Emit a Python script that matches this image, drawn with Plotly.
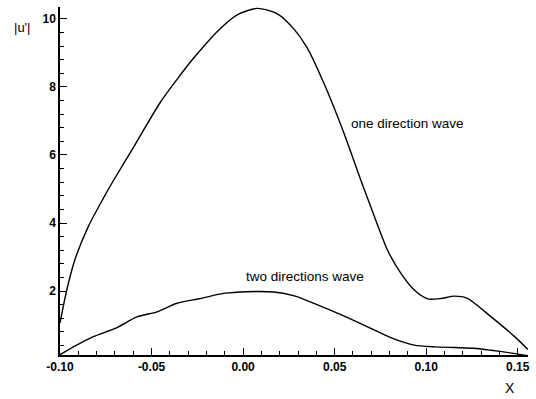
import plotly.graph_objects as go

# one direction wave
x_one = [-0.100, -0.0963, -0.0920, -0.0845, -0.0763, -0.0708, -0.0607, -0.0452, -0.0350, -0.0270,
         -0.0124, -0.0032, 0.0077, 0.0187, 0.0278, 0.0350, 0.0442, 0.0551, 0.0643, 0.0720,
         0.0789, 0.0862, 0.0935, 0.1008, 0.1080, 0.1154, 0.1227, 0.1355, 0.1483, 0.1556]
y_one = [1.06, 2.03, 2.90, 3.90, 4.73, 5.25, 6.15, 7.55, 8.30, 8.85,
         9.72, 10.12, 10.31, 10.15, 9.70, 9.15, 8.10, 6.64, 5.26, 4.15,
         3.20, 2.52, 2.03, 1.77, 1.78, 1.85, 1.78, 1.24, 0.66, 0.28]

# two directions wave
x_two = [-0.100, -0.0909, -0.0818, -0.0699, -0.0580, -0.0470, -0.0361, -0.0233, -0.0106, 0.0022,
         0.0168, 0.0280, 0.0387, 0.0550, 0.0698, 0.0820, 0.0935, 0.1050, 0.1154, 0.1260,
         0.1355, 0.1450, 0.1556]
y_two = [0.13, 0.41, 0.66, 0.90, 1.24, 1.39, 1.64, 1.78, 1.93, 1.98,
         1.97, 1.86, 1.64, 1.27, 0.90, 0.60, 0.41, 0.36, 0.34, 0.32,
         0.26, 0.19, 0.10]

x_ticks = [-0.10, -0.05, 0.00, 0.05, 0.10, 0.15]
x_ticklabels = ["-0.10", "-0.05", "0.00", "0.05", "0.10", "0.15"]
y_ticks = [2, 4, 6, 8, 10]
y_ticklabels = ["2", "4", "6", "8", "10"]

fam = "Liberation Sans, Arial, sans-serif"
tickfont = dict(family=fam, size=12, color="black", weight="bold")
labfont = dict(family=fam, size=13.5, color="black")

fig = go.Figure()
for xs, ys in ((x_one, y_one), (x_two, y_two)):
    fig.add_trace(go.Scatter(x=xs, y=ys, mode="lines",
                             line=dict(color="black", width=1.4, shape="spline", smoothing=0.7),
                             showlegend=False))

fig.update_layout(
    width=536, height=399,
    margin=dict(l=60, r=8, t=7, b=44),
    paper_bgcolor="white", plot_bgcolor="white",
    xaxis=dict(range=[-0.10, 0.1556], tickvals=x_ticks, ticktext=x_ticklabels,
               showgrid=False, zeroline=False, showline=True, linecolor="black", linewidth=1.5,
               ticks="inside", ticklen=7, tickwidth=1.2, tickcolor="black",
               minor=dict(dtick=0.01, tick0=0, ticks="inside", ticklen=4, tickwidth=1, tickcolor="black"),
               tickfont=tickfont),
    yaxis=dict(range=[0.12, 10.35], tickvals=y_ticks, ticktext=y_ticklabels,
               showgrid=False, zeroline=False, showline=True, linecolor="black", linewidth=1.5,
               ticks="inside", ticklen=7, tickwidth=1.2, tickcolor="black",
               minor=dict(dtick=0.4, tick0=0, ticks="inside", ticklen=4, tickwidth=1, tickcolor="black"),
               tickfont=tickfont),
    annotations=[
        dict(text="one direction wave", x=0.0899, y=6.94, xref="x", yref="y",
             xanchor="center", yanchor="middle", showarrow=False, font=labfont),
        dict(text="two directions wave", x=0.034, y=2.44, xref="x", yref="y",
             xanchor="center", yanchor="middle", showarrow=False, font=labfont),
        dict(text="|u'|", x=-0.081, y=0.94, xref="paper", yref="paper",
             xanchor="center", yanchor="middle", showarrow=False,
             font=dict(family=fam, size=13, color="black")),
        dict(text="X", x=0.9615, y=-0.095, xref="paper", yref="paper",
             xanchor="center", yanchor="middle", showarrow=False,
             font=dict(family=fam, size=14, color="black")),
    ],
)

fig.write_html("out.html")
